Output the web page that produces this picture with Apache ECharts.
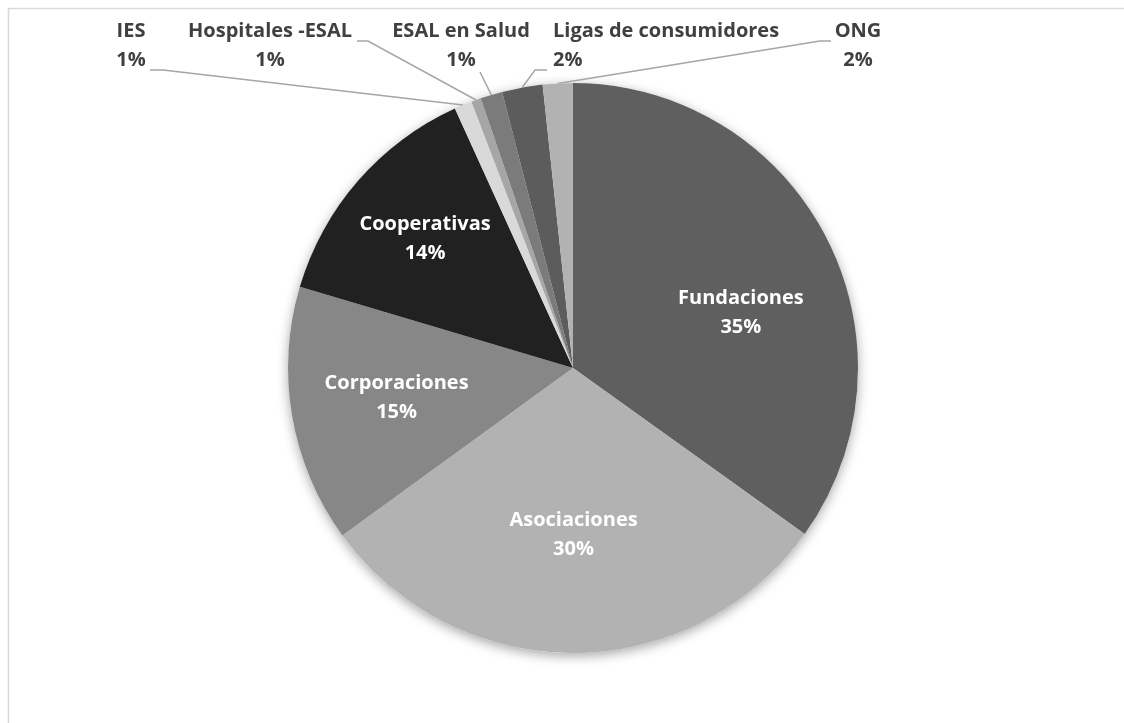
<!DOCTYPE html>
<html>
<head>
<meta charset="utf-8">
<script src="https://cdn.jsdelivr.net/npm/echarts@6/dist/echarts.min.js"></script>
<style>
  html, body { margin: 0; padding: 0; background: #fff; }
  #chart { width: 1124px; height: 723px; }
</style>
</head>
<body>
<div id="chart"></div>
<script>
// categorias y valores (porcentaje)
const categories = ['Fundaciones', 'Asociaciones', 'Corporaciones', 'Cooperativas', 'IES',
  'Hospitales -ESAL', 'ESAL en Salud', 'Ligas de consumidores', 'ONG']
const values = [34.9, 30.1, 14.6, 13.6, 1.0, 0.55, 1.25, 2.3, 1.7]
const colors = ['#5f5f5f', '#b2b2b2', '#878787', '#212121', '#d9d9d9', '#a6a6a6', '#7b7b7b', '#5c5c5c', '#b2b2b2']
// las primeras 4 van dentro de la torta
const insideCount = 4

// etiquetas internas: distancia al centro (fraccion del radio) y giro en grados
const insideLabelDist = [0.62, 0.585, 0.628, 0.688]
const insideLabelTurn = [9, 0, 0, 0]

// etiquetas externas (arriba, como en Excel): posicion, inicio de la linea guia y tramo horizontal
const outsideLabels = {
  4: { x: 131, y: 46, align: 'center', start: [19, 24], hook: 13 },
  5: { x: 270, y: 46, align: 'center', start: [87, -5], hook: 11 },
  6: { x: 461, y: 46, align: 'center', start: [19, 26], hook: 0 },
  7: { x: 553, y: 46, align: 'left', start: [-6, 24], hook: -12 },
  8: { x: 858, y: 46, align: 'center', start: [-27, -5], hook: -11 }
}

const center = [573, 368]
const radius = 285

const chart = echarts.init(document.getElementById('chart'))

const data = categories.map((name, i) => {
  const item = { name, value: values[i], itemStyle: { color: colors[i] } }
  if (i >= insideCount) {
    item.label = { position: 'outside', color: '#404040' }
    item.labelLine = { show: true }
  }
  return item
})

const option = {
  backgroundColor: '#fff',
  animation: false,
  // marco del area del grafico
  graphic: [{
    type: 'rect',
    shape: { x: 8.5, y: 8.5, width: 1200, height: 800 },
    style: { fill: 'none', stroke: '#d9d9d9', lineWidth: 1.5 },
    z: 0
  }],
  series: [
    // sombra de la torta
    {
      type: 'pie',
      center,
      radius,
      silent: true,
      z: 1,
      label: { show: false },
      labelLine: { show: false },
      emphasis: { disabled: true },
      itemStyle: {
        color: '#ffffff',
        shadowBlur: 12,
        shadowColor: 'rgba(0,0,0,0.35)',
        shadowOffsetY: 3
      },
      data: [{ value: 1, name: '' }]
    },
    {
      type: 'pie',
      center,
      radius,
      startAngle: 90,
      clockwise: true,
      z: 2,
      avoidLabelOverlap: false,
      emphasis: { disabled: true },
      itemStyle: { borderWidth: 0 },
      label: {
        show: true,
        position: 'inside',
        color: '#ffffff',
        fontFamily: 'Open Sans',
        fontWeight: 'bold',
        fontSize: 20,
        lineHeight: 29,
        formatter: p => p.name + '\n' + Math.round(p.percent) + '%'
      },
      labelLine: {
        show: false,
        length: 8,
        length2: 12,
        lineStyle: { color: '#a6a6a6', width: 1.5 }
      },
      labelLayout: function (p) {
        const spot = outsideLabels[p.dataIndex]
        if (spot) {
          const res = { x: spot.x, y: spot.y, align: spot.align, verticalAlign: 'middle' }
          if (p.labelLinePoints && p.labelLinePoints.length) {
            // punto sobre el borde de la porcion (calculado por echarts)
            const edge = p.labelLinePoints[0]
            const sx = spot.x + spot.start[0]
            const sy = spot.y + spot.start[1]
            res.labelLinePoints = [edge, [sx + spot.hook, sy], [sx, sy]]
          }
          return res
        }
        // mover la etiqueta interna sobre su direccion (como Excel)
        const r = p.labelRect
        const lx = r.x + r.width / 2 - center[0]
        const ly = r.y + r.height / 2 - center[1]
        const len = Math.sqrt(lx * lx + ly * ly)
        const t = insideLabelTurn[p.dataIndex] * Math.PI / 180
        const ux = (lx * Math.cos(t) - ly * Math.sin(t)) / len
        const uy = (lx * Math.sin(t) + ly * Math.cos(t)) / len
        const d = insideLabelDist[p.dataIndex] * radius
        return { dx: ux * d - lx, dy: uy * d - ly }
      },
      data
    }
  ]
}

chart.setOption(option)
window.addEventListener('resize', chart.resize)
</script>
</body>
</html>
